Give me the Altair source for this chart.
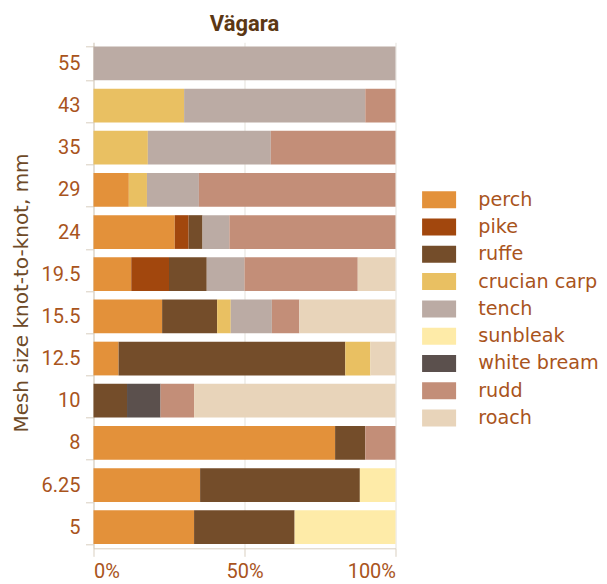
import altair as alt
import pandas as pd

mesh = ["55", "43", "35", "29", "24", "19.5", "15.5", "12.5", "10", "8", "6.25", "5"]
species = ["perch", "pike", "ruffe", "crucian carp", "tench", "sunbleak",
           "white bream", "rudd", "roach"]
colors = ["#E3913A", "#A2470D", "#744D2A", "#E9C062", "#BBABA4", "#FEEBA8",
          "#5B504D", "#C38E78", "#E8D4BA"]

perch = [0, 0, 0, 11.7, 26.9, 12.5, 22.7, 8.3, 0, 80, 35.3, 33.3]
pike = [0, 0, 0, 0, 4.6, 12.5, 0, 0, 0, 0, 0, 0]
ruffe = [0, 0, 0, 0, 4.6, 12.5, 18.2, 75, 11.1, 10, 52.9, 33.3]
crucian_carp = [0, 30, 18, 6, 0, 0, 4.5, 8.3, 0, 0, 0, 0]
tench = [100, 60, 40.7, 17.2, 8.9, 12.5, 13.6, 0, 0, 0, 0, 0]
sunbleak = [0, 0, 0, 0, 0, 0, 0, 0, 0, 0, 11.8, 33.4]
white_bream = [0, 0, 0, 0, 0, 0, 0, 0, 11.1, 0, 0, 0]
rudd = [0, 10, 41.3, 65.1, 55, 37.5, 9.1, 0, 11.1, 10, 0, 0]
roach = [0, 0, 0, 0, 0, 12.5, 31.8, 8.3, 66.7, 0, 0, 0]

series = [perch, pike, ruffe, crucian_carp, tench, sunbleak, white_bream, rudd, roach]

rows = []
for i, m in enumerate(mesh):
    for j, (sp, vals) in enumerate(zip(species, series)):
        if vals[i] > 0:
            rows.append({"mesh": m, "species": sp, "share": vals[i], "idx": j})
df = pd.DataFrame(rows)

label_color = "#A9541C"
axis_line = "#D9CFC0"

chart = alt.Chart(df).mark_bar().encode(
    x=alt.X("share:Q", stack="normalize",
            scale=alt.Scale(domain=[0, 1], nice=False),
            axis=alt.Axis(values=[0, 0.5, 1], format="%", title=None,
                          labelFont="Roboto", labelFontSize=20, labelColor=label_color,
                          tickSize=8, tickColor=axis_line, domainColor=axis_line,
                          labelPadding=5, grid=True, gridColor="#E4E1DB")),
    y=alt.Y("mesh:N", sort=mesh,
            scale=alt.Scale(paddingInner=0.2, paddingOuter=0.1),
            axis=alt.Axis(title="Mesh size knot-to-knot, mm",
                          titleFont="DejaVu Sans", titleFontSize=20,
                          titleFontWeight="normal", titleColor="#6E4A28",
                          titleAngle=270, titleX=-65.7, titleY=250.2,
                          titleAlign="center", titleBaseline="alphabetic",
                          labelFont="Roboto", labelFontSize=20, labelColor=label_color,
                          tickSize=8, tickColor=axis_line, domainColor=axis_line,
                          labelPadding=5.5, tickBand="extent", grid=False)),
    color=alt.Color("species:N",
                    scale=alt.Scale(domain=species, range=colors),
                    legend=alt.Legend(title=None, orient="none",
                                      legendX=336, legendY=147.8,
                                      symbolType="M-2,-1H2V1H-2Z", symbolSize=289,
                                      symbolStrokeWidth=0, symbolOpacity=1,
                                      labelFont="DejaVu Sans", labelFontSize=19.2,
                                      labelColor=label_color, labelOffset=29.5,
                                      rowPadding=7.3, padding=0)),
    order=alt.Order("idx:Q"),
).properties(
    width=302, height=506,
    title=alt.TitleParams("Vägara", font="Roboto", fontSize=22, fontWeight="bold",
                          color="#5B3714", anchor="middle", offset=10, dy=14),
    autosize=alt.AutoSizeParams(type="none"),
    padding={"left": 85.5, "top": 34.3, "right": 202.5, "bottom": 36},
).configure_view(stroke=None)

chart.save("out.html", embed_options={"renderer": "svg", "actions": False})
